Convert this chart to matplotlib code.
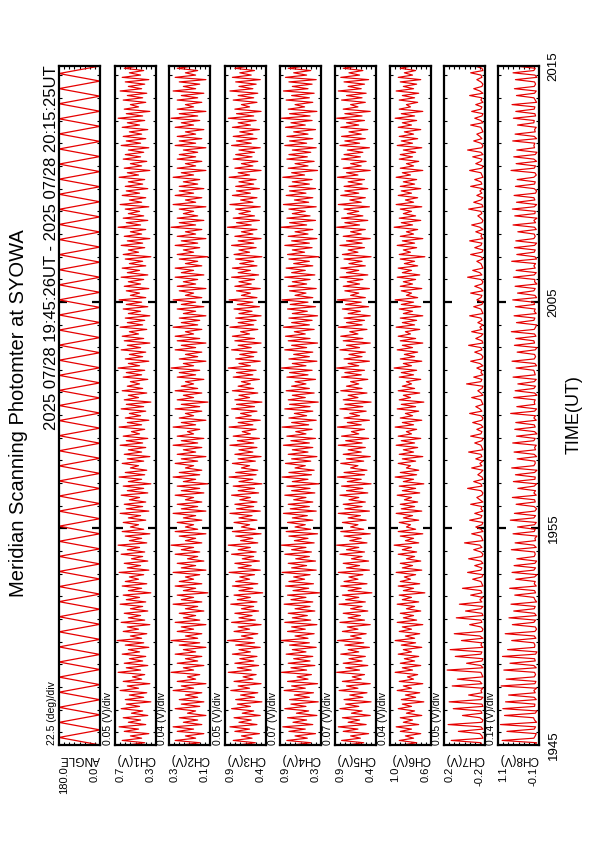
import numpy as np
import matplotlib
matplotlib.use("Agg")
import matplotlib.pyplot as plt
import matplotlib.transforms as mtrans
from matplotlib.ticker import FixedLocator, MultipleLocator

plt.rcParams['font.family'] = ['Liberation Sans', 'DejaVu Sans']

# ---------------- data ----------------
title = "Meridian Scanning Photomter at SYOWA"
header = "2025 07/28 19:45:26UT - 2025 07/28 20:15:25UT"
t_start_min = 45 + 26 / 60.0   # minutes after 19:00 UT
t_end_min = 75 + 25 / 60.0
time_ticks = [45 + 26 / 60.0, 55, 65, 75 + 25 / 60.0]
time_tick_labels = ["1945", "1955", "2005", "2015"]

panel_names = ["ANGLE", "CH1(V)", "CH2(V)", "CH3(V)", "CH4(V)", "CH5(V)", "CH6(V)", "CH7(V)", "CH8(V)"]
panel_div = ["22.5 (deg)/div", "0.05 (V)/div", "0.04 (V)/div", "0.05 (V)/div", "0.07 (V)/div",
             "0.07 (V)/div", "0.04 (V)/div", "0.05 (V)/div", "0.14 (V)/div"]
panel_max = [180.0, 0.7, 0.3, 0.9, 0.9, 0.9, 1.0, 0.2, 1.1]
panel_min = [0.0, 0.3, 0.1, 0.4, 0.3, 0.4, 0.6, -0.2, -0.1]
panel_max_lbl = ["180.0", "0.7", "0.3", "0.9", "0.9", "0.9", "1.0", "0.2", "1.1"]
panel_min_lbl = ["0.0", "0.3", "0.1", "0.4", "0.3", "0.4", "0.6", "-0.2", "-0.1"]

angle = [0.0, 180.0, 0.0, 180.0, 0.0, 180.0, 0.0, 180.0, 0.0, 180.0, 0.0, 180.0, 0.0, 180.0, 0.0, 180.0,
         0.0, 180.0, 0.0, 180.0, 0.0, 180.0, 0.0, 180.0, 0.0, 180.0, 0.0, 180.0, 0.0, 180.0, 0.0, 180.0,
         0.0, 180.0, 0.0, 180.0, 0.0, 180.0, 0.0, 180.0, 0.0, 180.0, 0.0, 180.0, 0.0, 180.0, 0.0, 180.0,
         0.0, 180.0, 0.0, 180.0, 0.0, 180.0, 0.0, 180.0, 0.0, 180.0, 0.0, 180.0, 0.0, 180.0, 0.0, 180.0,
         0.0, 180.0, 0.0, 180.0, 0.0, 180.0, 0.0, 180.0, 0.0, 180.0, 0.0, 180.0, 0.0, 180.0, 0.0, 180.0,
         0.0, 180.0, 0.0, 180.0, 0.0, 180.0, 0.0, 180.0, 0.0, 180.0, 0.0]

ch1 = [.58,.41,.63,.44,.55,.37,.61,.47,.66,.40,.57,.45,.62,.38,.54,.43,.64,.46,.59,.35,
       .60,.42,.56,.39,.65,.47,.58,.36,.62,.44,.53,.41,.67,.45,.59,.38,.61,.43,.56,.40,
       .63,.46,.57,.37,.60,.42,.68,.44,.55,.39,.62,.47,.58,.36,.64,.41,.57,.45,.61,.38,
       .55,.43,.65,.40,.59,.46,.62,.35,.57,.44,.63,.39,.60,.47,.56,.42,.66,.37,.58,.45,
       .61,.38,.54,.43,.64,.41,.58,.46,.67,.39,.56,.44,.60,.36,.63,.42,.55,.47,.62,.40,
       .57,.45,.65,.37,.59,.43,.61,.40,.56,.46,.64,.38,.58,.42,.62,.35,.57,.44,.66,.41,
       .60,.39,.55,.47,.63,.42,.58,.36,.61,.44,.57,.40,.65,.43,.59,.38,.62,.46,.54,.41,
       .66,.44,.58,.37,.60,.45,.56,.40,.64,.42,.59,.35,.61,.47,.57,.39,.63,.43,.58,.46,
       .55,.38,.62,.44,.59,.41,.67,.46,.57,.37,.60,.43,.56,.40,.64,.45,.58,.36,.61,.42,
       .63,.47,.56,.39,.65,.43,.58,.41,.60,.36,.57,.45,.62,.38,.59,.44,.66,.40,.55,.46,
       .59,.37,.61,.45,.57,.42,.64,.38,.58,.46,.63,.40,.56,.43,.60,.35,.62,.47,.57,.41,
       .64,.43,.58,.36,.61,.44,.55,.40,.67,.45,.59,.38,.62,.42,.57,.46,.60,.37,.65,.44,
       .56,.40,.63,.46,.59,.38,.60,.43,.57,.41,.66,.47,.58,.36,.61,.44,.55,.39,.62,.45,
       .60,.42,.57,.37,.64,.45,.59,.40,.62,.44,.56,.38,.63,.46,.58,.41,.67,.43,.59,.36,
       .61,.47,.55,.40,.62,.43,.58,.39,.65,.44,.57,.41,.60,.37,.63,.45,.56,.42,.61,.46]

ch2 = [.24,.15,.27,.17,.22,.13,.26,.18,.28,.14,.23,.16,.25,.12,.21,.17,.27,.15,.24,.13,
       .25,.16,.22,.14,.28,.18,.24,.12,.26,.17,.21,.15,.29,.18,.23,.13,.26,.16,.22,.14,
       .27,.17,.23,.12,.25,.15,.29,.16,.22,.14,.26,.18,.24,.12,.27,.15,.23,.17,.25,.13,
       .22,.16,.28,.14,.24,.18,.26,.11,.23,.17,.27,.14,.25,.18,.22,.15,.28,.12,.24,.17,
       .26,.13,.21,.16,.27,.15,.24,.18,.29,.14,.22,.17,.25,.12,.27,.16,.22,.18,.26,.14,
       .23,.17,.28,.12,.24,.16,.26,.14,.22,.18,.27,.13,.24,.15,.26,.11,.23,.17,.28,.15,
       .25,.14,.22,.18,.27,.16,.24,.12,.26,.17,.23,.14,.28,.16,.24,.13,.26,.18,.21,.15,
       .28,.17,.24,.12,.25,.18,.22,.14,.27,.15,.24,.11,.26,.18,.23,.14,.27,.16,.24,.18,
       .22,.13,.26,.17,.25,.15,.29,.18,.23,.12,.25,.16,.22,.14,.27,.17,.24,.12,.26,.15,
       .27,.18,.22,.14,.28,.16,.24,.15,.25,.12,.23,.17,.26,.13,.24,.17,.28,.14,.22,.18,
       .25,.12,.26,.17,.23,.16,.27,.13,.24,.18,.27,.14,.22,.16,.25,.11,.26,.18,.23,.15,
       .27,.16,.24,.12,.26,.17,.22,.14,.29,.17,.25,.13,.26,.16,.23,.18,.25,.12,.28,.17,
       .22,.14,.27,.18,.25,.13,.25,.16,.23,.15,.28,.18,.24,.12,.26,.17,.22,.14,.26,.17,
       .25,.16,.23,.12,.27,.17,.25,.14,.26,.17,.22,.13,.27,.18,.24,.15,.29,.16,.25,.12,
       .26,.18,.22,.14,.26,.16,.24,.13,.28,.17,.23,.15,.25,.12,.27,.17,.22,.16,.26,.18]

ch3 = [.74,.53,.80,.57,.70,.48,.78,.60,.84,.51,.73,.58,.79,.47,.69,.55,.82,.59,.75,.45,
       .77,.54,.71,.50,.83,.60,.74,.46,.79,.56,.68,.52,.86,.58,.75,.49,.78,.55,.72,.51,
       .81,.59,.73,.47,.77,.54,.87,.56,.70,.50,.79,.60,.74,.46,.82,.53,.73,.57,.78,.49,
       .70,.55,.83,.51,.75,.59,.79,.44,.73,.56,.81,.50,.77,.60,.72,.54,.85,.47,.74,.58,
       .78,.48,.69,.55,.82,.52,.74,.59,.86,.50,.71,.56,.77,.46,.81,.53,.70,.60,.79,.51,
       .73,.57,.84,.47,.76,.55,.78,.51,.72,.59,.82,.49,.74,.54,.80,.45,.73,.56,.85,.52,
       .77,.50,.70,.60,.81,.53,.74,.46,.78,.56,.73,.51,.84,.55,.75,.48,.80,.59,.69,.52,
       .85,.56,.74,.47,.77,.58,.71,.51,.82,.54,.76,.45,.78,.60,.73,.50,.81,.55,.74,.59,
       .70,.48,.80,.56,.76,.52,.86,.59,.73,.47,.77,.55,.72,.51,.82,.58,.74,.46,.78,.54,
       .81,.60,.71,.50,.84,.55,.74,.52,.77,.46,.73,.57,.79,.48,.75,.56,.85,.51,.70,.59,
       .76,.47,.78,.58,.73,.54,.82,.49,.74,.59,.81,.51,.72,.55,.77,.45,.79,.60,.73,.52,
       .82,.55,.74,.46,.78,.56,.70,.51,.87,.58,.76,.48,.80,.54,.73,.59,.77,.47,.84,.56,
       .71,.51,.81,.59,.76,.48,.77,.55,.73,.52,.85,.60,.74,.46,.78,.56,.70,.50,.80,.57,
       .77,.54,.73,.47,.82,.58,.76,.51,.80,.56,.72,.48,.81,.59,.74,.52,.86,.55,.76,.46,
       .78,.60,.70,.51,.80,.55,.74,.50,.84,.56,.73,.52,.77,.47,.81,.58,.72,.54,.78,.59]

ch4 = [.72,.45,.80,.50,.68,.38,.77,.53,.86,.42,.71,.51,.79,.36,.66,.48,.83,.52,.74,.34,
       .76,.47,.69,.41,.84,.53,.73,.35,.79,.49,.65,.44,.88,.51,.74,.39,.78,.46,.70,.42,
       .81,.52,.72,.37,.76,.47,.89,.49,.68,.40,.79,.53,.73,.36,.83,.45,.72,.50,.78,.39,
       .68,.46,.84,.42,.74,.52,.79,.32,.71,.48,.82,.41,.77,.54,.70,.46,.87,.37,.73,.51,
       .78,.38,.67,.47,.83,.44,.73,.52,.88,.40,.69,.49,.77,.35,.81,.45,.68,.53,.79,.42,
       .72,.50,.85,.37,.75,.47,.78,.42,.70,.52,.83,.39,.73,.46,.80,.33,.72,.49,.87,.44,
       .77,.40,.68,.53,.82,.45,.73,.36,.78,.49,.72,.42,.85,.47,.74,.38,.80,.52,.67,.43,
       .87,.48,.73,.37,.77,.51,.69,.42,.83,.46,.76,.34,.78,.53,.72,.40,.81,.47,.73,.52,
       .68,.38,.80,.49,.76,.43,.88,.52,.72,.36,.77,.47,.70,.42,.83,.51,.73,.35,.78,.46,
       .82,.53,.69,.40,.85,.47,.73,.43,.77,.35,.72,.50,.79,.38,.75,.49,.87,.42,.68,.52,
       .76,.37,.78,.51,.72,.46,.83,.39,.73,.53,.81,.42,.70,.47,.77,.33,.79,.54,.72,.43,
       .83,.47,.73,.36,.78,.49,.68,.42,.89,.51,.76,.38,.80,.46,.72,.53,.77,.37,.85,.48,
       .69,.42,.81,.52,.76,.38,.77,.47,.72,.43,.86,.54,.73,.35,.78,.49,.68,.40,.80,.50,
       .77,.45,.72,.37,.83,.51,.76,.42,.80,.49,.70,.38,.82,.53,.74,.43,.88,.46,.76,.36,
       .78,.54,.68,.42,.81,.47,.73,.40,.85,.49,.72,.43,.77,.37,.82,.51,.70,.45,.78,.52]

ch5 = [.76,.55,.82,.59,.71,.49,.80,.62,.86,.52,.74,.60,.81,.47,.70,.57,.84,.61,.77,.46,
       .79,.56,.72,.51,.85,.62,.76,.47,.81,.58,.69,.54,.88,.60,.77,.50,.80,.57,.73,.53,
       .83,.61,.74,.48,.78,.55,.87,.58,.71,.52,.81,.62,.75,.47,.84,.54,.74,.59,.80,.50,
       .71,.57,.85,.53,.77,.61,.81,.45,.74,.58,.83,.51,.79,.62,.73,.56,.86,.48,.76,.60,
       .80,.49,.70,.57,.84,.54,.76,.61,.88,.51,.72,.58,.79,.47,.83,.55,.71,.62,.81,.52,
       .74,.59,.86,.48,.78,.57,.80,.53,.73,.61,.84,.50,.76,.56,.82,.46,.75,.58,.87,.54,
       .79,.51,.71,.62,.83,.55,.76,.47,.80,.58,.74,.53,.86,.57,.77,.49,.82,.61,.70,.54,
       .87,.58,.75,.48,.79,.60,.72,.52,.84,.56,.78,.46,.80,.62,.74,.51,.83,.57,.76,.61,
       .71,.50,.82,.58,.78,.54,.88,.61,.74,.48,.79,.57,.73,.53,.84,.60,.76,.47,.80,.56,
       .83,.62,.72,.51,.86,.57,.76,.54,.79,.47,.74,.59,.81,.49,.77,.58,.87,.53,.71,.61,
       .78,.48,.80,.60,.75,.56,.84,.50,.76,.61,.83,.53,.73,.57,.79,.46,.81,.62,.74,.54,
       .84,.57,.76,.47,.80,.58,.71,.53,.88,.60,.78,.50,.82,.56,.75,.61,.79,.48,.86,.58,
       .72,.53,.83,.61,.78,.50,.79,.57,.74,.54,.87,.62,.76,.47,.80,.58,.71,.52,.82,.59,
       .79,.56,.75,.48,.84,.60,.78,.53,.82,.58,.73,.50,.83,.61,.76,.54,.88,.57,.78,.47,
       .80,.62,.71,.53,.82,.57,.76,.52,.86,.58,.74,.54,.79,.49,.83,.60,.73,.56,.80,.61]

ch6 = [.88,.74,.91,.77,.85,.70,.90,.79,.94,.72,.87,.78,.90,.69,.84,.76,.92,.79,.88,.67,
       .89,.75,.85,.71,.93,.79,.87,.68,.91,.77,.83,.73,.95,.78,.88,.70,.90,.76,.86,.72,
       .92,.79,.87,.69,.89,.75,.95,.76,.85,.71,.91,.79,.88,.68,.93,.74,.87,.77,.90,.70,
       .84,.76,.93,.72,.88,.79,.91,.66,.87,.77,.92,.71,.90,.80,.86,.75,.94,.69,.88,.78,
       .90,.70,.84,.76,.92,.74,.88,.79,.96,.72,.85,.77,.90,.68,.92,.75,.84,.80,.91,.72,
       .87,.78,.94,.69,.89,.76,.90,.73,.86,.79,.93,.71,.88,.75,.91,.67,.87,.77,.95,.74,
       .90,.72,.84,.80,.92,.75,.88,.68,.91,.77,.87,.73,.94,.76,.89,.70,.92,.79,.84,.74,
       .95,.77,.88,.69,.90,.78,.85,.72,.93,.75,.89,.67,.91,.80,.87,.71,.92,.76,.88,.79,
       .84,.70,.91,.77,.89,.74,.96,.79,.87,.69,.90,.76,.86,.73,.93,.78,.88,.68,.90,.75,
       .92,.80,.85,.71,.94,.76,.88,.74,.90,.68,.87,.78,.91,.70,.89,.77,.95,.73,.84,.79,
       .89,.69,.90,.78,.87,.75,.93,.71,.88,.79,.92,.73,.86,.76,.90,.66,.91,.80,.87,.74,
       .93,.76,.88,.68,.90,.77,.84,.73,.96,.78,.89,.70,.91,.75,.87,.79,.90,.69,.94,.77,
       .85,.73,.92,.79,.89,.70,.90,.76,.87,.74,.94,.80,.88,.68,.90,.77,.84,.72,.91,.78,
       .90,.75,.87,.69,.93,.78,.89,.73,.91,.77,.86,.70,.92,.79,.88,.74,.95,.76,.89,.68,
       .91,.80,.84,.73,.91,.76,.88,.72,.94,.77,.87,.74,.90,.70,.92,.78,.86,.75,.90,.79]

ch7 = [-.17,-.16,.13,-.18,-.17,-.15,.06,-.18,-.16,.16,-.17,-.18,-.15,.02,-.17,-.16,.11,-.18,-.17,.15,
       -.16,-.18,-.04,-.17,-.16,-.18,.12,-.17,-.15,.07,-.18,-.17,-.16,.17,-.18,-.16,-.02,-.17,-.18,.09,
       -.16,-.17,.14,-.18,-.16,-.17,.03,-.18,-.15,.10,-.17,-.18,-.16,-.05,-.17,-.16,.08,-.18,-.17,-.01,
       -.16,-.18,.05,-.17,-.15,-.18,-.06,-.17,-.16,.02,-.18,-.17,-.16,-.08,-.17,-.18,-.03,-.16,-.17,-.10,
       -.18,-.16,-.04,-.17,-.18,-.16,-.09,-.17,-.15,.00,-.18,-.17,-.16,-.07,-.18,-.16,-.11,-.17,-.18,-.05,
       -.16,-.17,-.10,-.18,-.16,-.17,-.06,-.18,-.15,-.12,-.17,-.18,-.16,-.03,-.17,-.16,-.09,-.18,-.17,-.13,
       -.16,-.18,-.07,-.17,-.15,-.18,-.11,-.17,-.16,-.04,-.18,-.17,-.16,-.10,-.17,-.18,-.06,-.16,-.17,-.12,
       -.18,-.16,-.08,-.17,-.18,-.16,-.05,-.17,-.15,-.11,-.18,-.17,-.16,-.07,-.18,-.16,-.13,-.17,-.18,-.02,
       -.16,-.17,-.09,-.18,-.16,-.17,-.12,-.18,-.15,-.06,-.17,-.18,-.16,-.10,-.17,-.16,-.04,-.18,-.17,-.11,
       -.16,-.18,-.07,-.17,-.15,-.18,-.13,-.17,-.16,-.05,-.18,-.17,-.16,-.09,-.17,-.18,-.12,-.16,-.17,-.06,
       -.18,-.16,-.10,-.17,-.18,-.16,-.03,-.17,-.15,-.08,-.18,-.17,-.16,-.12,-.18,-.16,-.06,-.17,-.18,-.10,
       -.16,-.17,-.05,-.18,-.16,-.17,-.11,-.18,-.15,-.07,-.17,-.18,-.16,-.13,-.17,-.16,-.04,-.18,-.17,-.09,
       -.16,-.18,-.12,-.17,-.15,-.18,-.06,-.17,-.16,-.10,-.18,-.17,-.16,-.05,-.17,-.18,-.11,-.16,-.17,-.08,
       -.18,-.16,-.03,-.17,-.18,-.16,-.09,-.17,-.15,-.12,-.18,-.17,-.16,-.06,-.18,-.16,-.10,-.17,-.18,-.07,
       -.16,-.17,-.11,-.18,-.16,-.17,-.05,-.18,-.15,-.09,-.17,-.18,-.16,-.12,-.17,-.16,-.06,-.18,-.17,-.10]

ch8 = [.02,-.03,.98,.05,.01,-.02,.84,.04,.00,1.03,-.03,.03,.06,.91,.01,-.04,.96,.03,.02,.88,
       -.02,.04,.79,.01,.05,-.03,1.01,.02,-.01,.86,.04,.00,.03,.93,-.02,.05,.75,.01,.03,.97,
       .00,-.04,.82,.03,.02,.05,.70,-.01,.04,.89,.02,-.03,.01,.68,.05,.00,.78,-.02,.03,.64,
       .04,.01,.72,-.03,.02,.05,.61,.00,.03,.76,-.02,.04,.01,.58,.03,-.04,.69,.05,.00,.63,
       .02,-.03,.55,.04,.01,.03,.71,-.02,.05,.60,.00,.02,-.04,.66,.04,.01,.53,.03,-.02,.74,
       .05,.00,.62,.02,-.03,.04,.57,.01,.03,.68,-.02,.05,.00,.52,.04,-.03,.65,.02,.01,.59,
       .03,-.04,.70,.05,.01,.02,.54,-.03,.04,.63,.00,.03,-.02,.67,.05,.01,.56,-.04,.03,.61,
       .01,.04,.58,-.02,.05,.00,.73,.03,-.03,.55,.02,.04,.01,.64,-.04,.03,.60,.05,.00,.52,
       .04,-.02,.66,.01,.03,.05,.57,-.03,.02,.69,.04,.00,.03,.54,.01,-.04,.62,.03,.05,.58,
       -.01,.03,.71,.04,.00,-.03,.56,.05,.02,.63,-.02,.04,.01,.59,.03,.05,.67,-.03,.02,.53,
       .05,.01,.60,-.04,.03,.02,.65,.04,-.02,.57,.01,.05,.00,.70,-.03,.02,.55,.04,.01,.62,
       .03,-.03,.58,.05,.01,.04,.52,-.02,.03,.66,.00,.05,-.04,.61,.02,.01,.68,.04,-.03,.56,
       .02,.05,.63,.00,-.03,.04,.59,.03,.01,.54,.05,-.02,.02,.72,.04,.00,.57,-.03,.05,.64,
       .01,-.04,.55,.03,.05,.02,.67,-.03,.04,.60,.01,.03,-.02,.53,.05,.04,.65,.00,.02,.58,
       .04,.02,.69,-.03,.01,.05,.56,.03,-.02,.62,.04,.00,.03,.59,-.04,.02,.66,.05,.01,.61]

series = [angle, ch1, ch2, ch3, ch4, ch5, ch6, ch7, ch8]

# ---------------- layout ----------------
W, H = 595, 842
fig = plt.figure(figsize=(W / 100, H / 100), dpi=100)
fig.patch.set_facecolor("white")

panel_left_px = [59, 115, 169, 225, 280, 335, 390, 444, 498]
panel_w_px = 41
top_px, bot_px = 66, 745

axes = []
for i, vals in enumerate(series):
    l = panel_left_px[i]
    ax = fig.add_axes([l / W, (H - bot_px) / H, panel_w_px / W, (bot_px - top_px) / H])
    axes.append(ax)
    t = np.linspace(t_start_min, t_end_min, len(vals))
    ax.plot(vals, t, color="#e60000", lw=0.9 if i == 0 else 0.85)
    ax.set_xlim(panel_max[i], panel_min[i])
    ax.set_ylim(t_start_min, t_end_min)

    ax.xaxis.set_major_locator(FixedLocator(np.linspace(panel_min[i], panel_max[i], 9)[1:-1]))
    ax.tick_params(axis="x", which="major", direction="in", top=True, bottom=True,
                   length=2.5, width=0.8, labelbottom=False, labeltop=False)
    ax.yaxis.set_major_locator(FixedLocator([55, 65]))
    ax.yaxis.set_minor_locator(MultipleLocator(1))
    ax.tick_params(axis="y", which="major", direction="in", left=True, right=True,
                   length=6, width=1.6, labelleft=False, labelright=False)
    ax.tick_params(axis="y", which="minor", direction="in", left=True, right=True,
                   length=2.5, width=0.8)
    for sp in ax.spines.values():
        sp.set_linewidth(1.6)

    # scale / div text
    ax.text(-0.17, 0.0, panel_div[i], transform=ax.transAxes, rotation=90,
            ha="center", va="bottom", fontsize=7.5)
    # channel label (upside down)
    ax.text(0.5, -0.012, panel_names[i], transform=ax.transAxes, rotation=180,
            ha="center", va="top", fontsize=8.5)
    # max / min labels
    ax.text(0.13, -0.032, panel_max_lbl[i], transform=ax.transAxes, rotation=90,
            ha="center", va="top", fontsize=8)
    ax.text(0.87, -0.032, panel_min_lbl[i], transform=ax.transAxes, rotation=90,
            ha="center", va="top", fontsize=8)

# time labels to the right of the last panel
axl = axes[-1]
blend = mtrans.blended_transform_factory(axl.transAxes, axl.transData)
for tt, lab in zip(time_ticks, time_tick_labels):
    axl.text(1.36, tt, lab, transform=blend, rotation=90, ha="center", va="center", fontsize=9.5)

fig.text(574 / W, 1 - 415 / H, "TIME(UT)", rotation=90, ha="center", va="center", fontsize=13)
fig.text(19 / W, 1 - 413 / H, title, rotation=90, ha="center", va="center", fontsize=14.5)
fig.text(52 / W, 1 - 248 / H, header, rotation=90, ha="center", va="center", fontsize=12)

fig.savefig("out.png", dpi=100)
